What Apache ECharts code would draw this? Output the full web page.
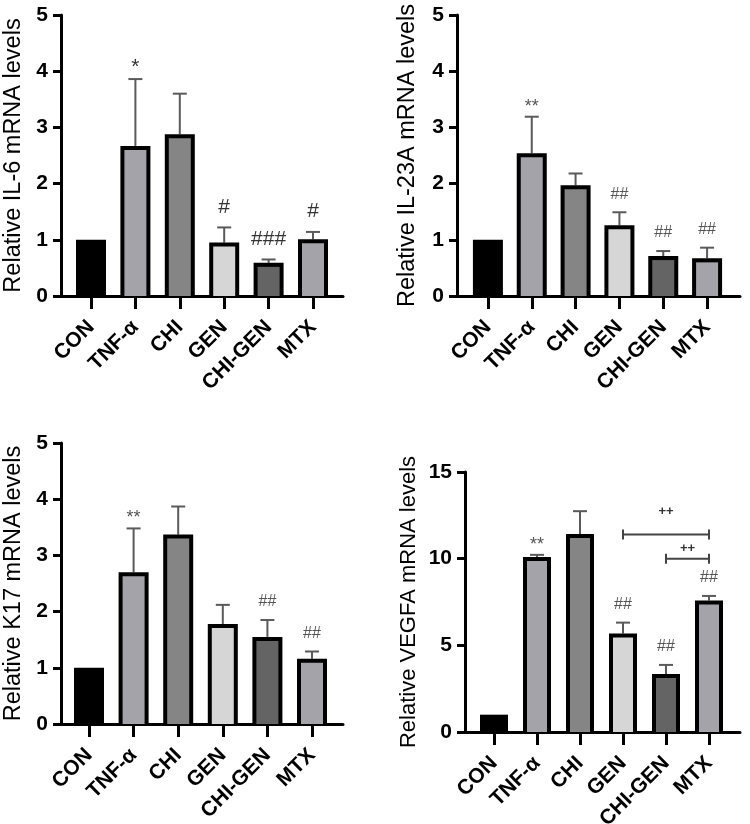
<!DOCTYPE html>
<html><head><meta charset="utf-8">
<script src="https://cdn.jsdelivr.net/npm/echarts@6/dist/echarts.min.js"></script>
<style>html,body{margin:0;padding:0;background:#fff}#c{width:750px;height:824px}</style>
</head><body><div id="c"></div>
<script>
const categories = ['CON', 'TNF-α', 'CHI', 'GEN', 'CHI-GEN', 'MTX'];
const barColors = ['#000000', '#a3a3a9', '#858585', '#d6d6d6', '#646464', '#a3a3a9'];

// IL-6
const il6Values = [1.0, 2.67, 2.88, 0.95, 0.59, 1.01];
const il6Err    = [0, 1.19, 0.72, 0.27, 0.06, 0.13];
const il6Marks  = ['', '*', '', '#', '###', '#'];
// IL-23A
const il23Values = [1.0, 2.54, 1.97, 1.26, 0.71, 0.67];
const il23Err    = [0, 0.65, 0.21, 0.23, 0.09, 0.19];
const il23Marks  = ['', '**', '', '##', '##', '##'];
// K17
const k17Values = [1.0, 2.70, 3.37, 1.78, 1.55, 1.16];
const k17Err    = [0, 0.78, 0.50, 0.34, 0.30, 0.13];
const k17Marks  = ['', '**', '', '', '##', '##'];
// VEGFA
const vegfValues = [1.0, 10.1, 11.43, 5.68, 3.34, 7.58];
const vegfErr    = [0, 0.12, 1.31, 0.63, 0.53, 0.27];
const vegfMarks  = ['', '**', '', '##', '##', '##'];
// VEGFA comparison brackets
const bracketFrom   = ['GEN', 'CHI-GEN'];
const bracketTo     = ['MTX', 'MTX'];
const bracketValue  = [11.4, 10.0];
const bracketLabelV = [12.7, 10.6];
const bracketLabel  = ['++', '++'];

const yTitles = ['Relative IL-6 mRNA levels', 'Relative IL-23A mRNA levels', 'Relative K17 mRNA levels', 'Relative VEGFA mRNA levels'];
const yMax = [5, 5, 5, 15];
const yInterval = [1, 1, 1, 5];

const FONT = '"Liberation Sans", Arial, sans-serif';

const panels = [
  {axisX: 61,  top: 15,  bottom: 296, right: 343, innerL: 68.8, innerR: 335.2, nameGap: 35, nameSize: 23.5, barW: 30, markSize: 21, starSize: 21, markColor: '#333', values: il6Values, err: il6Err, marks: il6Marks},
  {axisX: 457, top: 15,  bottom: 296, right: 740, innerL: 466,  innerR: 729,   nameGap: 37, nameSize: 23.5, barW: 30, markSize: 16, starSize: 18, markColor: '#555', values: il23Values, err: il23Err, marks: il23Marks},
  {axisX: 61,  top: 443, bottom: 724, right: 343, innerL: 66.7, innerR: 334.3, nameGap: 35, nameSize: 23.5, barW: 30, markSize: 16, starSize: 18, markColor: '#555', values: k17Values, err: k17Err, marks: k17Marks},
  {axisX: 465, top: 472, bottom: 732, right: 740, innerL: 472.5, innerR: 730.5, nameGap: 45, nameSize: 22, barW: 28, markSize: 16, starSize: 18, markColor: '#555', values: vegfValues, err: vegfErr, marks: vegfMarks}
];

function barRenderer(w, b) {
  return function (params, api) {
    const i = api.value(0), v = api.value(1);
    const top = api.coord([i, v]), base = api.coord([i, 0]);
    const h = base[1] - top[1];
    return {type: 'group', children: [
      {type: 'rect', shape: {x: top[0] - w / 2, y: top[1], width: w, height: h}, style: {fill: '#000'}},
      {type: 'rect', shape: {x: top[0] - w / 2 + b, y: top[1] + b, width: w - 2 * b, height: Math.max(0, h - b)}, style: {fill: barColors[params.dataIndex]}}
    ]};
  };
}

function errRenderer(marks, size, starSize, color) {
  return function (params, api) {
    const i = api.value(0), v = api.value(1), e = api.value(2);
    const p0 = api.coord([i, v]), p1 = api.coord([i, v + e]);
    const children = [];
    if (e > 0) {
      children.push({type: 'line', shape: {x1: p0[0], y1: p0[1], x2: p1[0], y2: p1[1]}, style: {stroke: '#5a5a5a', lineWidth: 2}});
      children.push({type: 'line', shape: {x1: p1[0] - 7, y1: p1[1], x2: p1[0] + 7, y2: p1[1]}, style: {stroke: '#5a5a5a', lineWidth: 2}});
    }
    const m = marks[params.dataIndex];
    if (m) {
      const isStar = m.indexOf('*') >= 0;
      const off = isStar ? 1 : 10;
      children.push({type: 'text', x: p1[0], y: p1[1] - off, style: {text: m, fill: color, font: (isStar ? starSize : size) + 'px ' + FONT, align: 'center', verticalAlign: 'bottom'}});
    }
    return {type: 'group', children: children};
  };
}

function bracketRenderer(params, api) {
  const a = api.value(0), v = api.value(1), b = api.value(2), lv = api.value(3);
  const p0 = api.coord([a, v]), p1 = api.coord([b, v]);
  const lp = api.coord([a, lv]);
  const mid = (p0[0] + p1[0]) / 2;
  return {type: 'group', children: [
    {type: 'line', shape: {x1: p0[0], y1: p0[1], x2: p1[0], y2: p1[1]}, style: {stroke: '#444', lineWidth: 2}},
    {type: 'line', shape: {x1: p0[0], y1: p0[1] - 5, x2: p0[0], y2: p0[1] + 5}, style: {stroke: '#444', lineWidth: 2}},
    {type: 'line', shape: {x1: p1[0], y1: p1[1] - 5, x2: p1[0], y2: p1[1] + 5}, style: {stroke: '#444', lineWidth: 2}},
    {type: 'text', x: mid, y: lp[1], style: {text: bracketLabel[params.dataIndex], fill: '#333', font: 'bold 13px ' + FONT, align: 'center', verticalAlign: 'middle'}}
  ]};
}

const grid = [], xAxis = [], yAxis = [], series = [];
panels.forEach(function (p, k) {
  const g0 = 2 * k, g1 = 2 * k + 1;
  grid.push({left: p.axisX, top: p.top, width: p.right - p.axisX, height: p.bottom - p.top, containLabel: false, outerBoundsMode: 'none'});
  grid.push({left: p.innerL, top: p.top, width: p.innerR - p.innerL, height: p.bottom - p.top, containLabel: false, outerBoundsMode: 'none'});
  xAxis.push({gridIndex: g0, type: 'value', min: 0, max: 1, axisLine: {show: true, onZero: false, lineStyle: {color: '#000', width: 3}}, axisTick: {show: false}, axisLabel: {show: false}, splitLine: {show: false}});
  xAxis.push({gridIndex: g1, type: 'category', data: categories,
    axisLine: {show: false}, axisTick: {show: true, alignWithLabel: true, length: 13, lineStyle: {color: '#000', width: 3}},
    axisLabel: {rotate: 45, margin: 28, color: '#000', fontSize: 21, fontWeight: 'bold', fontFamily: FONT, interval: 0},
    splitLine: {show: false}});
  yAxis.push({gridIndex: g0, type: 'value', min: 0, max: yMax[k], interval: yInterval[k],
    axisLine: {show: true, lineStyle: {color: '#000', width: 3}},
    axisTick: {show: true, length: 8, lineStyle: {color: '#000', width: 3}},
    axisLabel: {color: '#000', fontSize: 21, fontWeight: 'bold', fontFamily: FONT, margin: 13},
    splitLine: {show: false},
    name: yTitles[k], nameLocation: 'middle', nameGap: p.nameGap,
    nameTextStyle: {color: '#000', fontSize: p.nameSize, fontFamily: FONT}});
  yAxis.push({gridIndex: g1, type: 'value', min: 0, max: yMax[k], show: false});
  series.push({type: 'custom', xAxisIndex: g1, yAxisIndex: g1, z: 3,
    renderItem: errRenderer(p.marks, p.markSize, p.starSize, p.markColor),
    data: categories.map(function (c, i) { return [i, p.values[i], p.err[i]]; })});
  series.push({type: 'custom', xAxisIndex: g1, yAxisIndex: g1, z: 4,
    renderItem: barRenderer(p.barW, 4),
    data: categories.map(function (c, i) { return [i, p.values[i]]; })});
});
series.push({type: 'custom', xAxisIndex: 7, yAxisIndex: 7, z: 5, renderItem: bracketRenderer,
  data: bracketFrom.map(function (f, i) { return [categories.indexOf(f), bracketValue[i], categories.indexOf(bracketTo[i]), bracketLabelV[i]]; })});

const chart = echarts.init(document.getElementById('c'), null, {renderer: 'canvas'});
chart.setOption({animation: false, backgroundColor: '#fff', textStyle: {fontFamily: FONT}, grid: grid, xAxis: xAxis, yAxis: yAxis, series: series});
</script>
</body></html>
